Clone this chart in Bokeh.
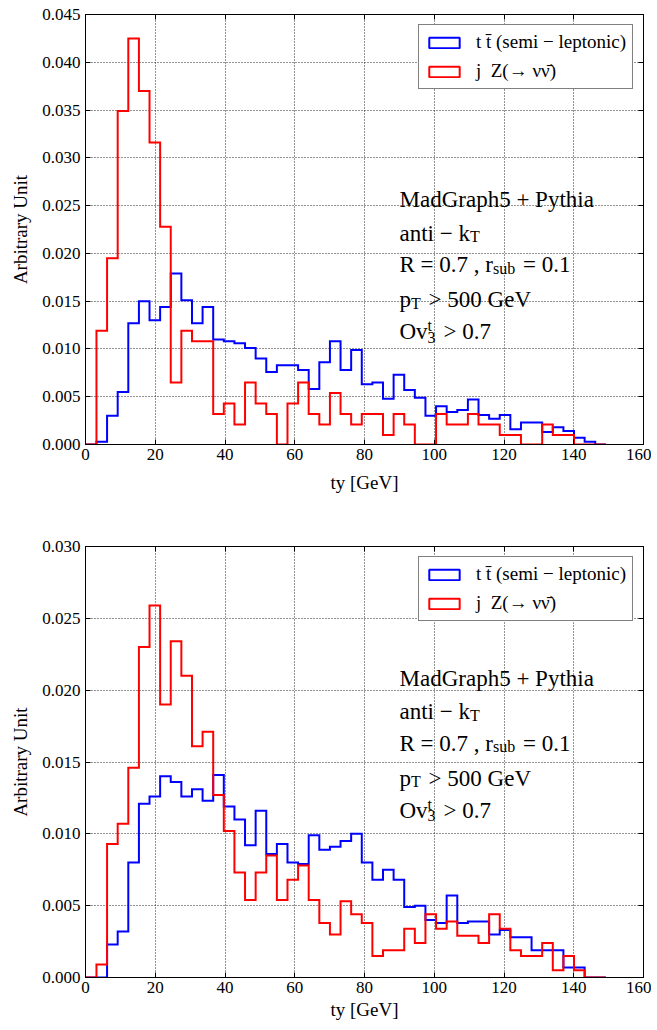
import numpy as np
from bokeh.plotting import figure
from bokeh.layouts import column
from bokeh.models import Range1d, FixedTicker, PrintfTickFormatter, LinearAxis, Label
from bokeh.embed import file_html
from bokeh.resources import INLINE

# ------------------------------------------------------------------ data
BIN_START = 0.1      # GeV, lower edge of the first bin
BIN_WIDTH = 3.043    # GeV

# top panel
tt_top = [0.0000, 0.0003, 0.0030, 0.0055, 0.0127, 0.0150, 0.0130, 0.0144, 0.0179, 0.0151,
          0.0127, 0.0144, 0.0110, 0.0108, 0.0106, 0.0101, 0.0090, 0.0076, 0.0083, 0.0083,
          0.0078, 0.0058, 0.0086, 0.0108, 0.0078, 0.0099, 0.0063, 0.0065, 0.0048, 0.0073,
          0.0057, 0.0049, 0.0030, 0.0040, 0.0034, 0.0036, 0.0047, 0.0031, 0.0027, 0.0031,
          0.0016, 0.0023, 0.0023, 0.0013, 0.0018, 0.0014, 0.0007, 0.0003, 0.0000]
jz_top = [0.0000, 0.0119, 0.0195, 0.0349, 0.0425, 0.0370, 0.0316, 0.0228, 0.0065, 0.0119,
          0.0108, 0.0108, 0.0032, 0.0043, 0.0021, 0.0065, 0.0043, 0.0032, 0.0000, 0.0043,
          0.0065, 0.0032, 0.0021, 0.0054, 0.0032, 0.0021, 0.0032, 0.0032, 0.0010, 0.0032,
          0.0021, 0.0000, 0.0000, 0.0032, 0.0021, 0.0021, 0.0032, 0.0021, 0.0021, 0.0010,
          0.0010, 0.0000, 0.0000, 0.0021, 0.0010, 0.0010, 0.0000, 0.0000, 0.0000]

# bottom panel
tt_bot = [0.0000, 0.0000, 0.0023, 0.0032, 0.0080, 0.0121, 0.0126, 0.0140, 0.0136, 0.0126,
          0.0131, 0.0123, 0.0141, 0.0119, 0.0110, 0.0092, 0.0116, 0.0086, 0.0093, 0.0080,
          0.0079, 0.0099, 0.0089, 0.0091, 0.0095, 0.0100, 0.0080, 0.0068, 0.0075, 0.0068,
          0.0049, 0.0050, 0.0040, 0.0038, 0.0057, 0.0038, 0.0039, 0.0039, 0.0030, 0.0033,
          0.0028, 0.0028, 0.0019, 0.0019, 0.0019, 0.0007, 0.0007, 0.0000, 0.0000]
jz_bot = [0.0000, 0.0009, 0.0093, 0.0107, 0.0146, 0.0230, 0.0259, 0.0190, 0.0234, 0.0210,
          0.0161, 0.0171, 0.0127, 0.0102, 0.0073, 0.0054, 0.0073, 0.0085, 0.0054, 0.0068,
          0.0078, 0.0054, 0.0038, 0.0030, 0.0053, 0.0044, 0.0038, 0.0015, 0.0019, 0.0019,
          0.0034, 0.0024, 0.0044, 0.0034, 0.0039, 0.0029, 0.0029, 0.0024, 0.0044, 0.0034,
          0.0019, 0.0015, 0.0015, 0.0024, 0.0005, 0.0015, 0.0005, 0.0000, 0.0000]

series_labels = ["t t\u0304 (semi \u2212 leptonic)", "j  Z(\u2192 \u03bd\u03bd\u0304)"]
series_colors = ["#0000ff", "#ff0000"]

x_ticks = [0, 20, 40, 60, 80, 100, 120, 140, 160]
y_ticks_top = [0.000, 0.005, 0.010, 0.015, 0.020, 0.025, 0.030, 0.035, 0.040, 0.045]
y_ticks_bot = [0.000, 0.005, 0.010, 0.015, 0.020, 0.025, 0.030]

x_label = "ty [GeV]"
y_label = "Arbitrary Unit"

ANNOT_LINES = [
    [("MadGraph5 + Pythia", "m")],
    [("anti \u2212 k", "m"), ("T", "sub")],
    [("R = 0.7 , r", "m"), ("sub", "sub"), (" = 0.1", "m")],
    [("p", "m"), ("T", "sub"), (" > 500 GeV", "m")],
    [("Ov", "m"), ("t", "sup"), ("3", "sub2"), (" > 0.7", "m")],
]

# ------------------------------------------------------------------ style
SERIF = "Liberation Serif, DejaVu Serif, serif"
FRAME_W = 558
X_MAX = 160
MAIN_FS = 23
SUB_FS = 16
LINE_OFFS = [0, 33.4, 65, 100, 131.7]     # px between annotation baselines
TEXT_X_PX = 314                           # px from the frame's left edge
SHIFT = {"m": 0, "sub": 3.5, "sub2": 5.5, "sup": -6}

# Times / Liberation Serif advance widths (1/1000 em)
TW = {' ': 250, '+': 564, '=': 564, '>': 564, '\u2212': 564, '.': 250, ',': 250,
      'G': 722, 'M': 889, 'O': 722, 'P': 556, 'R': 667, 'T': 611, 'V': 722,
      'a': 444, 'b': 500, 'd': 500, 'e': 444, 'h': 500, 'i': 278, 'k': 500,
      'n': 500, 'p': 500, 'r': 333, 's': 389, 't': 278, 'u': 500, 'v': 500, 'y': 500}


def text_w(s, size):
    return sum(TW.get(c, 500) for c in s) * size / 1000.0


def step_xy(values):
    edges = BIN_START + BIN_WIDTH * np.arange(len(values) + 1)
    xs, ys = [edges[0]], [0.0]
    for i, v in enumerate(values):
        xs += [edges[i], edges[i + 1]]
        ys += [v, v]
    xs.append(edges[-1])
    ys.append(0.0)
    return xs, ys


def style_axis(ax, label_fs="17px", standoff=4):
    ax.major_tick_in = 5
    ax.major_tick_out = 0
    ax.minor_tick_line_color = None
    ax.axis_line_color = "black"
    ax.major_tick_line_color = "black"
    ax.major_label_text_font = SERIF
    ax.major_label_text_font_size = label_fs
    ax.major_label_text_color = "black"
    ax.major_label_standoff = standoff
    ax.axis_label_text_font = SERIF
    ax.axis_label_text_font_style = "normal"
    ax.axis_label_text_font_size = "19px"
    ax.axis_label_text_color = "black"


def make_panel(tt, jz, y_ticks, frame_h, b_top, b_bottom, first_off, xlab_standoff):
    ymax = y_ticks[-1]
    p = figure(frame_width=FRAME_W, frame_height=frame_h,
               x_range=Range1d(0, X_MAX), y_range=Range1d(0, ymax),
               output_backend="svg", toolbar_location=None,
               min_border_left=85, min_border_right=8,
               min_border_top=b_top, min_border_bottom=b_bottom,
               background_fill_color="white", border_fill_color="white")
    p.outline_line_color = "black"
    p.outline_line_width = 1

    # axes
    p.xaxis.ticker = FixedTicker(ticks=x_ticks)
    p.yaxis.ticker = FixedTicker(ticks=y_ticks)
    p.yaxis.formatter = PrintfTickFormatter(format="%.3f")
    p.xaxis.axis_label = x_label
    p.yaxis.axis_label = y_label
    style_axis(p.xaxis[0], standoff=4)
    style_axis(p.yaxis[0], standoff=5)
    p.xaxis.axis_label_standoff = xlab_standoff
    p.yaxis.axis_label_standoff = 8

    top_ax = LinearAxis(ticker=FixedTicker(ticks=x_ticks))
    right_ax = LinearAxis(ticker=FixedTicker(ticks=y_ticks))
    for ax in (top_ax, right_ax):
        style_axis(ax)
        ax.major_label_text_font_size = "0px"
        ax.major_label_text_color = None
        ax.major_label_standoff = 0
    p.add_layout(top_ax, "above")
    p.add_layout(right_ax, "right")

    # grid
    for g in (p.xgrid[0], p.ygrid[0]):
        g.grid_line_color = "black"
        g.grid_line_dash = "1 2"
        g.grid_line_alpha = 0.85
        g.grid_line_width = 1
    p.xgrid.ticker = FixedTicker(ticks=x_ticks)
    p.ygrid.ticker = FixedTicker(ticks=y_ticks)

    # histograms
    for vals, col in zip((tt, jz), series_colors):
        xs, ys = step_xy(vals)
        p.line(xs, ys, line_color=col, line_width=2, line_join="miter")

    # legend proxies (outlined rectangles, never visible in the frame)
    for lab, col in zip(series_labels, series_colors):
        p.quad(left=[np.nan], right=[np.nan], top=[np.nan], bottom=[np.nan],
               fill_color=None, line_color=col, line_width=2, legend_label=lab)
    lg = p.legend[0]
    lg.location = "top_right"
    lg.margin = 10
    lg.padding = 6
    lg.spacing = 7
    lg.glyph_width = 38
    lg.glyph_height = 13
    lg.label_standoff = 13
    lg.label_text_font = SERIF
    lg.label_text_font_size = "19px"
    lg.label_text_color = "black"
    lg.border_line_color = "black"
    lg.border_line_width = 1
    lg.background_fill_color = "white"
    lg.background_fill_alpha = 1.0

    # annotation block
    px2x = X_MAX / FRAME_W
    px2y = ymax / frame_h
    for off, segs in zip(LINE_OFFS, ANNOT_LINES):
        xpx = TEXT_X_PX
        base = first_off + off
        for txt, kind in segs:
            size = MAIN_FS if kind == "m" else SUB_FS
            body = txt.lstrip(" ")
            xpx += (len(txt) - len(body)) * TW[' '] * size / 1000.0 * 1.1
            y = ymax - (base + SHIFT[kind]) * px2y
            p.add_layout(Label(x=xpx * px2x, y=y, text=body, text_font=SERIF,
                               text_font_size=f"{size}px", text_color="black",
                               text_baseline="alphabetic", text_align="left"))
            if kind != "sup":
                xpx += text_w(body, size) + (1.5 if kind != "m" else 0)
    return p


p1 = make_panel(tt_top, jz_top, y_ticks_top, 430, 14, 63, 185.3, 9)
p2 = make_panel(tt_bot, jz_bot, y_ticks_bot, 431, 39, 53, 131.8, 3)

layout = column(p1, p2)
open("out.html", "w").write(file_html(layout, INLINE))
